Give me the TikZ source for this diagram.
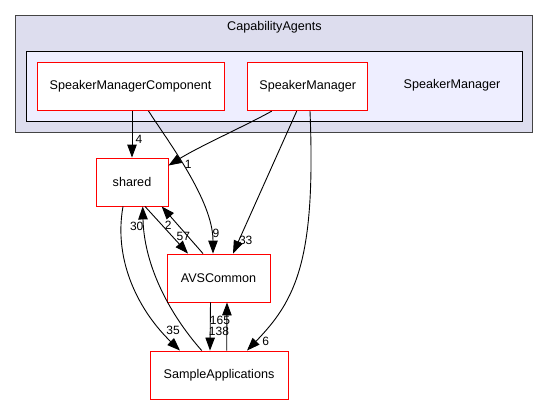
\documentclass[tikz,border=0pt]{standalone}
\usepackage{fontspec}
\setmainfont{Liberation Sans}
\usetikzlibrary{arrows.meta}
\definecolor{outerfill}{HTML}{DDDDEE}
\definecolor{innerfill}{HTML}{EEEEFF}
\definecolor{outerline}{HTML}{444444}
\definecolor{boxred}{HTML}{FF0000}
\tikzset{
  dirbox/.style={draw=boxred, fill=white, line width=0.9pt, inner sep=0pt,
    minimum height=48pt, font=\fontsize{12.6}{14}\selectfont},
  outercl/.style={draw=outerline, fill=outerfill, line width=1.3pt, inner sep=0pt},
  innercl/.style={draw=black, fill=innerfill, line width=1pt, inner sep=0pt},
  plainlbl/.style={inner sep=0pt, font=\fontsize{12.6}{14}\selectfont},
  elbl/.style={inner sep=0pt, font=\fontsize{12}{14}\selectfont},
  dep/.style={draw=black, line width=0.9pt, -{Triangle[length=13pt,width=9.5pt]}}
}
\begin{document}
\begin{tikzpicture}[x=1pt,y=-1pt]
\useasboundingbox (0,0) rectangle (549,404);
% clusters
\node[outercl, minimum width=517pt, minimum height=116.6pt] (outer) at (274.2,74) {};
\node[plainlbl] (outerlbl) at (274.5,27.3) {CapabilityAgents};
\node[innercl, minimum width=496.4pt, minimum height=69.3pt] (inner) at (274.5,86.35) {};
\node[plainlbl] (smlbl) at (452,85.5) {SpeakerManager};
% directory boxes
\node[dirbox, minimum width=187pt] (smc) at (130.5,86.5) {SpeakerManagerComponent};
\node[dirbox, minimum width=120pt] (sm) at (307.7,86.7) {SpeakerManager};
\node[dirbox, minimum width=72pt] (shared) at (132,182) {shared};
\node[dirbox, minimum width=103pt] (avs) at (218.5,278) {AVSCommon};
\node[dirbox, minimum width=138pt] (sa) at (219,375) {SampleApplications};
% edges
\draw[dep] (smc.south -| shared.north) -- (shared.north);
\draw[dep] ([xshift=18pt]smc.south) .. controls (167,140) and (213,200) .. ([xshift=-5.5pt]avs.north);
\draw[dep] ([xshift=-36pt]sm.south) .. controls (245,126) and (200,146) .. ([yshift=-8pt]shared.north east);
\draw[dep] ([xshift=-11pt]sm.south) -- ([xshift=14.5pt]avs.north);
\draw[dep] ([xshift=2.3pt]sm.south) .. controls (316,260) and (296,300) .. ([xshift=28pt]sa.north);
\draw[dep] ([xshift=13pt]shared.south) -- ([xshift=-30.5pt]avs.north);
\draw[dep] ([xshift=-15.5pt]avs.north) -- ([xshift=29.7pt]shared.south);
\draw[dep] ([xshift=-9pt]shared.south) .. controls (113,262) and (140,312) .. ([xshift=-39pt]sa.north);
\draw[dep] ([xshift=-17.3pt]sa.north) .. controls (166,310) and (144,262) .. ([xshift=10.7pt]shared.south);
\draw[dep] ([xshift=-8pt]avs.south) -- ([xshift=-9pt]sa.north);
\draw[dep] ([xshift=7.7pt]sa.north) -- ([xshift=8.5pt]avs.south);
% edge labels
\node[elbl] (l4) at (139,139) {4};
\node[elbl] (l9) at (216,233.3) {9};
\node[elbl] (l1) at (188.3,164.3) {1};
\node[elbl] (l33) at (245.7,240.7) {33};
\node[elbl] (l6) at (265.7,341) {6};
\node[elbl] (l57) at (183.3,236) {57};
\node[elbl] (l2) at (168.3,225) {2};
\node[elbl] (l35) at (173,330.7) {35};
\node[elbl] (l30) at (136.7,226) {30};
\node[elbl] (l138) at (219,331) {138};
\node[elbl] (l165) at (220,320.5) {165};
\end{tikzpicture}
\end{document}
